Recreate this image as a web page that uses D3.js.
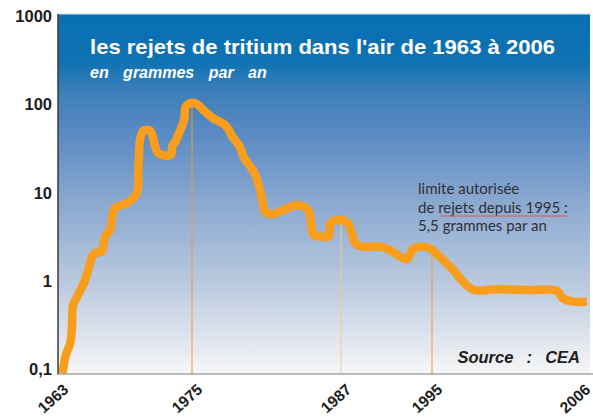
<!DOCTYPE html>
<html lang="fr">
<head>
<meta charset="utf-8">
<script src="https://cdn.jsdelivr.net/npm/d3@7"></script>
<style>
  html, body { margin: 0; padding: 0; background: #ffffff; overflow: hidden; }
  svg { display: block; }
</style>
</head>
<body>
<svg id="chart" width="593" height="417"></svg>
<script>
// Rejets annuels de tritium dans l'air (grammes par an), échelle logarithmique
const years = [
  1963.4, 1963.7, 1964.1, 1964.25, 1964.35, 1964.7, 1965.4, 1965.7, 1966.25, 1966.9,
  1967.2, 1967.65, 1968.1, 1969.15, 1970.05, 1970.2, 1970.35, 1970.65, 1971.25, 1971.7,
  1972.0, 1973.1, 1973.25, 1973.5, 1973.95, 1974.3, 1974.45, 1975.0, 1975.5, 1975.9,
  1976.7, 1977.65, 1978.35, 1978.85, 1979.15, 1980.05, 1980.6, 1980.9, 1981.55, 1982.35,
  1983.55, 1984.35, 1984.6, 1984.8, 1985.45, 1986.0, 1986.15, 1986.9, 1987.6, 1987.95,
  1988.25, 1988.95, 1990.45, 1991.3, 1992.2, 1992.8, 1993.05, 1993.25, 1993.95, 1994.8,
  1995.55, 1996.5, 1997.2, 1997.95, 1999.6, 2001.95, 2003.85, 2004.3, 2005.0, 2006.0
];
const rejets = [
  0.09, 0.144, 0.197, 0.30, 0.53, 0.656, 1.0, 1.33, 2.06, 2.14,
  3.15, 3.78, 6.7, 7.6, 9.9, 18.2, 39.7, 50.7, 50.7, 33.3,
  28.0, 26.9, 34.0, 38.0, 51.6, 67, 95, 105, 99.4, 87.1,
  70.1, 58.9, 41.6, 33.3, 25.7, 16.6, 9.03, 6.1, 5.74, 6.38,
  7.27, 6.38, 4.51, 3.32, 3.18, 3.18, 4.51, 4.91, 4.51, 3.47,
  2.67, 2.44, 2.44, 2.24, 1.88, 1.76, 1.97, 2.24, 2.44, 2.34,
  1.88, 1.33, 0.98, 0.789, 0.803, 0.789, 0.774, 0.634, 0.581, 0.581
];

// Années repères (graduations de l'axe) et années signalées par un trait vertical
const yearTicks = [1963, 1975, 1987, 1995, 2006];
const markedYears = [1975, 1987, 1995];
const markedValues = [105, 4.91, 2.34];
const valueTicks = [0.1, 1, 10, 100, 1000];

const title = "les rejets de tritium dans l'air de 1963 à 2006";
const subtitle = "en grammes par an";
const noteLines = ["limite autorisée", "de rejets depuis 1995 :", "5,5 grammes par an"];
const source = "Source  :  CEA";

const svg = d3.select("#chart");

// Zone de tracé
const plot = { left: 58, right: 590, top: 14, bottom: 374 };

// Échelle temporelle par segments entre les années repères
const x = d3.scaleLinear()
  .domain(yearTicks)
  .range([58, 192, 341, 432, 587]);

const y = d3.scaleLog()
  .domain([0.1, 1000])
  .range([369, 16.6]);

const fr = d3.formatLocale({ decimal: ",", thousands: "", grouping: [3], currency: ["", " €"] });

// Fond dégradé bleu
const defs = svg.append("defs");
const grad = defs.append("linearGradient")
  .attr("id", "fond").attr("x1", 0).attr("y1", 0).attr("x2", 0).attr("y2", 1);
[
  [0, "#0870b2"], [0.13, "#0e72b3"], [0.22, "#3f7fbb"], [0.33, "#5a8ac3"],
  [0.52, "#8aa8d0"], [0.74, "#b8c8de"], [0.9, "#dfe4ed"], [1, "#f6f6f7"]
].forEach(([o, c]) => grad.append("stop").attr("offset", o).attr("stop-color", c));

svg.append("rect")
  .attr("x", plot.left).attr("y", plot.top)
  .attr("width", plot.right - plot.left).attr("height", plot.bottom - plot.top)
  .attr("fill", "url(#fond)");

// Bord supérieur clair
svg.append("line")
  .attr("x1", plot.left).attr("x2", plot.right)
  .attr("y1", plot.top).attr("y2", plot.top)
  .attr("stroke", "#d6e2ee").attr("stroke-width", 1);

// Traits verticaux aux années repères
const markColors = ["#f29b2c", "#f6c78c", "#f29b2c"];
svg.append("g").selectAll("line")
  .data(markedYears)
  .join("line")
  .attr("x1", d => x(d)).attr("x2", d => x(d))
  .attr("y1", (d, i) => y(markedValues[i]))
  .attr("y2", plot.bottom)
  .attr("stroke", (d, i) => markColors[i])
  .attr("stroke-width", 1);

// Courbe des rejets
const points = years.map((yr, i) => [yr, rejets[i]]);
const line = d3.line()
  .x(d => x(d[0]))
  .y(d => y(d[1]))
  .curve(d3.curveCatmullRom.alpha(0.5));

svg.append("path")
  .datum(points)
  .attr("d", line)
  .attr("fill", "none")
  .attr("stroke", "#f99d1c")
  .attr("stroke-width", 8.5)
  .attr("stroke-linejoin", "round")
  .attr("stroke-linecap", "butt");

// Axe des valeurs
const yAxis = svg.append("g")
  .attr("transform", `translate(${plot.left},0)`)
  .call(d3.axisLeft(y).tickValues(valueTicks).tickSize(0).tickPadding(6)
    .tickFormat(fr.format("~g")));
yAxis.select(".domain").remove();
yAxis.selectAll("text")
  .attr("font-family", "'Liberation Sans', Arial, sans-serif")
  .attr("font-weight", "bold")
  .attr("font-size", 16.5)
  .attr("fill", "#1e1e1e");
svg.append("line")
  .attr("x1", plot.left).attr("x2", plot.left)
  .attr("y1", plot.top).attr("y2", plot.bottom + 0.5)
  .attr("stroke", "#3a3a3a").attr("stroke-width", 1.5);

// Axe des années (la dernière étiquette est rapprochée pour rester dans le cadre)
const xAxis = svg.append("g")
  .attr("transform", `translate(0,${plot.bottom})`)
  .call(d3.axisBottom(x).tickValues(yearTicks).tickSize(0).tickFormat(d3.format("d")));
xAxis.select(".domain").remove();
xAxis.selectAll("text")
  .attr("font-family", "'Liberation Sans', Arial, sans-serif")
  .attr("font-weight", "bold")
  .attr("font-size", 15.5)
  .attr("fill", "#1e1e1e")
  .attr("text-anchor", "end")
  .attr("y", 0).attr("dy", 0)
  .attr("transform", d => `translate(${d === 2006 ? 4 : 11},17) rotate(-42)`);
svg.append("line")
  .attr("x1", plot.left).attr("x2", 593)
  .attr("y1", plot.bottom).attr("y2", plot.bottom)
  .attr("stroke", "#7a7a7a").attr("stroke-width", 1.2);

// Titre
svg.append("text")
  .attr("x", 90).attr("y", 54)
  .attr("font-family", "'Liberation Sans', Arial, sans-serif")
  .attr("font-weight", "bold")
  .attr("font-size", 21)
  .attr("fill", "#ffffff")
  .attr("textLength", 465)
  .attr("lengthAdjust", "spacingAndGlyphs")
  .text(title);

svg.append("text")
  .attr("x", 90).attr("y", 78)
  .attr("font-family", "'Liberation Sans', Arial, sans-serif")
  .attr("font-weight", "bold")
  .attr("font-style", "italic")
  .attr("font-size", 16)
  .attr("word-spacing", 10)
  .attr("fill", "#ffffff")
  .text(subtitle);

// Note sur la limite autorisée
const note = svg.append("text")
  .attr("font-family", "Lato, 'Open Sans', sans-serif")
  .attr("font-size", 15)
  .attr("fill", "#2f3035");
note.selectAll("tspan")
  .data(noteLines)
  .join("tspan")
  .attr("x", 418)
  .attr("y", (d, i) => 194 + i * 18.5)
  .text(d => d);

svg.append("line")
  .attr("x1", 440).attr("x2", 567)
  .attr("y1", 216).attr("y2", 216)
  .attr("stroke", "#e0574f").attr("stroke-width", 1);

// Source
svg.append("text")
  .attr("x", 580).attr("y", 363)
  .attr("text-anchor", "end")
  .attr("font-family", "'Liberation Sans', Arial, sans-serif")
  .attr("font-weight", "bold")
  .attr("font-style", "italic")
  .attr("font-size", 16.5)
  .attr("word-spacing", 2)
  .attr("fill", "#1e1e1e")
  .style("white-space", "pre")
  .text(source);
</script>
</body>
</html>
